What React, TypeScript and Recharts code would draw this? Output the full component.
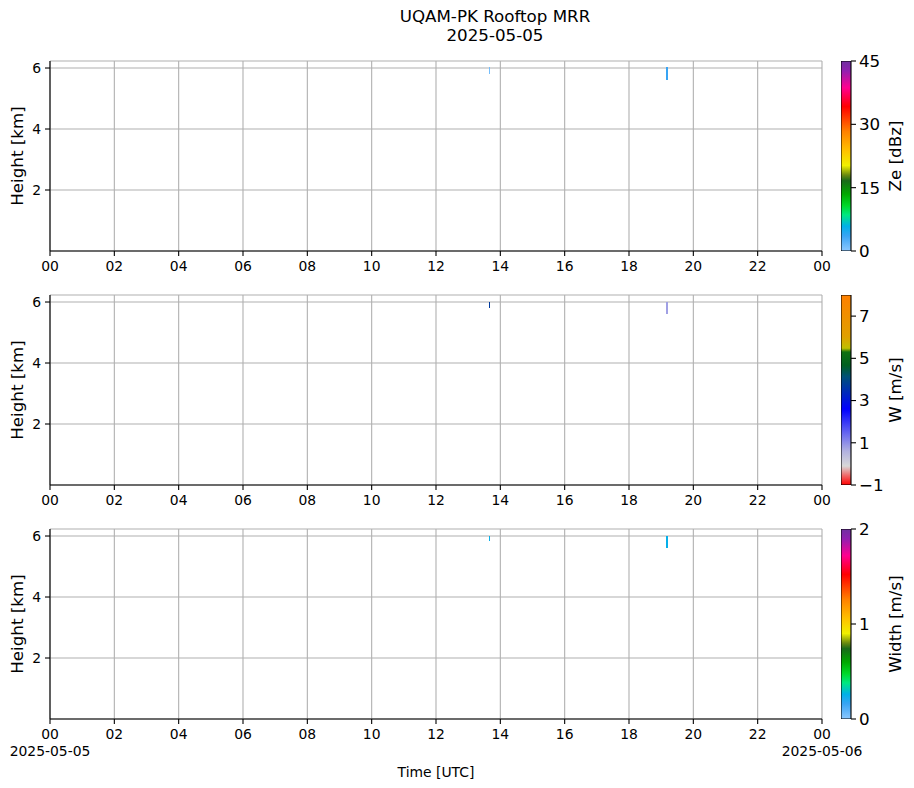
import React from "react";
import { ComposedChart, Bar, XAxis, YAxis, CartesianGrid, ReferenceArea } from "recharts";

// time axis (hours UTC)
const hourTicks = [0, 2, 4, 6, 8, 10, 12, 14, 16, 18, 20, 22, 24];
const hourLabels = ["00", "02", "04", "06", "08", "10", "12", "14", "16", "18", "20", "22", "00"];
const dateLabels = ["2025-05-05", "", "", "", "", "", "", "", "", "", "", "", "2025-05-06"];
const heightTicks = [2, 4, 6];

// the two echo columns seen in the day (start / end hour)
const gateStart = [13.648, 19.15];
const gateEnd = [13.679, 19.213];

// reflectivity
const zeBottom = [5.8, 5.6];
const zeTop = [6.03, 6.03];
const zeValues = [1.0, 3.6];
// doppler velocity
const wBottom = [5.8, 5.6];
const wTop = [6.0, 6.0];
const wValues = [3.7, 0.8];
// spectral width
const swBottom = [5.82, 5.6];
const swTop = [6.0, 6.0];
const swValues = [0.25, 0.25];

const zeTicks = [0, 15, 30, 45];
const wTicks = [-1, 1, 3, 5, 7];
const swTicks = [0, 1, 2];

// colormaps, position 0..1 from bottom of the colorbar
const rainbowMap: [number, string][] = [
  [0, "#8cc8ff"],
  [0.08, "#38a4f4"],
  [0.13, "#00b0e8"],
  [0.19, "#00e880"],
  [0.24, "#00d828"],
  [0.3, "#00a800"],
  [0.37, "#1a6a1a"],
  [0.4, "#6a8a10"],
  [0.45, "#f0f000"],
  [0.53, "#ffc000"],
  [0.63, "#ff8000"],
  [0.76, "#ff0000"],
  [0.86, "#ff0090"],
  [0.95, "#9020b0"],
  [1, "#7030a0"],
];
const velocityMap: [number, string][] = [
  [0, "#ff0000"],
  [0.05, "#f06868"],
  [0.1, "#d8d8d8"],
  [0.18, "#b0b0e0"],
  [0.27, "#6868f0"],
  [0.4, "#0000ff"],
  [0.5, "#0030b0"],
  [0.57, "#005078"],
  [0.63, "#006020"],
  [0.7, "#107010"],
  [0.72, "#c0c000"],
  [0.78, "#e0a000"],
  [1, "#ff8000"],
];

const FONT = "DejaVu Sans";
const PLOT_LEFT = 50;
const PLOT_RIGHT = 822;
const PLOT_H = 190;

function hexToRgb(h: string) {
  return [1, 3, 5].map((i) => parseInt(h.slice(i, i + 2), 16));
}

function colorAt(map: [number, string][], f: number) {
  const t = Math.max(0, Math.min(1, f));
  for (let i = 1; i < map.length; i++) {
    if (t <= map[i][0]) {
      const [p0, c0] = map[i - 1];
      const [p1, c1] = map[i];
      const k = (t - p0) / (p1 - p0 || 1);
      const a = hexToRgb(c0);
      const b = hexToRgb(c1);
      return `rgb(${a.map((v, j) => Math.round(v + (b[j] - v) * k)).join(",")})`;
    }
  }
  return map[map.length - 1][1];
}

// pixel-snapped cell so 1px-wide gates stay crisp
function GateCell(props: any) {
  const { x, y, width, height, fill } = props;
  const x0 = Math.round(x);
  const w = Math.max(1, Math.round(x + width) - x0);
  return (
    <rect
      x={x0}
      y={Math.round(y)}
      width={w}
      height={Math.round(height)}
      fill={fill}
      stroke="none"
      shapeRendering="crispEdges"
    />
  );
}

function DateTick(props: any) {
  const { x, y, index } = props;
  const date = dateLabels[index];
  return (
    <text x={x} y={y} textAnchor="middle" fill="#000" fontSize={13.9}>
      <tspan x={x} dy="0.71em">{hourLabels[index]}</tspan>
      {date ? (
        <tspan x={x} dy="1.2em">{date}</tspan>
      ) : null}
    </text>
  );
}

interface PanelProps {
  top: number;
  bottoms: number[];
  tops: number[];
  values: number[];
  min: number;
  max: number;
  map: [number, string][];
  last?: boolean;
}

function Panel({ top, bottoms, tops, values, min, max, map, last }: PanelProps) {
  const axisH = last ? 65 : 30;
  return (
    <div style={{ position: "absolute", left: 0, top: top - 10 }}>
      <ComposedChart
        width={914}
        height={10 + PLOT_H + axisH}
        margin={{ top: 10, right: 914 - PLOT_RIGHT, left: 0, bottom: 0 }}
      >
        <CartesianGrid stroke="#b0b0b0" strokeWidth={1.1} />
        <XAxis
          type="number"
          dataKey="x"
          domain={[0, 24]}
          ticks={hourTicks}
          interval={0}
          height={axisH}
          stroke="#000"
          strokeWidth={1.1}
          tickSize={5}
          tickMargin={5}
          tick={last ? <DateTick /> : { fill: "#000", fontSize: 13.9 }}
          tickFormatter={(v) => hourLabels[hourTicks.indexOf(v)]}
          allowDataOverflow
          label={
            last
              ? { value: "Time [UTC]", position: "insideBottom", offset: 7, fill: "#000", fontSize: 13.9 }
              : undefined
          }
        />
        <XAxis
          xAxisId="top"
          orientation="top"
          type="number"
          domain={[0, 24]}
          height={0}
          tick={false}
          tickLine={false}
          stroke="#000"
          strokeWidth={1.1}
        />
        <YAxis
          type="number"
          domain={[0, 6.23]}
          ticks={heightTicks}
          interval={0}
          width={PLOT_LEFT}
          stroke="#000"
          strokeWidth={1.1}
          tickSize={5}
          tickMargin={4}
          tick={{ fill: "#000", fontSize: 13.9 }}
          allowDataOverflow
          label={{
            value: "Height [km]",
            angle: -90,
            position: "insideLeft",
            offset: 17,
            fill: "#000",
            fontSize: 16.7,
            style: { textAnchor: "middle" },
          }}
        />
        <YAxis
          yAxisId="right"
          orientation="right"
          type="number"
          domain={[0, 6.23]}
          width={0}
          tick={false}
          tickLine={false}
          stroke="#000"
          strokeWidth={1.1}
        />
        {gateStart.map((t, i) => (
          <ReferenceArea
            key={i}
            x1={t}
            x2={gateEnd[i]}
            y1={bottoms[i]}
            y2={tops[i]}
            fill={colorAt(map, (values[i] - min) / (max - min))}
            fillOpacity={1}
            stroke="none"
            shape={<GateCell />}
          />
        ))}
      </ComposedChart>
    </div>
  );
}

interface ColorbarProps {
  id: string;
  top: number;
  min: number;
  max: number;
  ticks: number[];
  map: [number, string][];
  label: string;
}

function Colorbar({ id, top, min, max, ticks, map, label }: ColorbarProps) {
  const data = [{ name: id, span: [min, max] }];
  return (
    <div style={{ position: "absolute", left: 841, top: top - 10 }}>
      <ComposedChart
        width={73}
        height={PLOT_H + 20}
        data={data}
        barCategoryGap={0}
        margin={{ top: 10, right: 0, left: 0, bottom: 10 }}
      >
        <defs>
          <linearGradient id={id} x1="0" y1="1" x2="0" y2="0">
            {map.map(([p, c]) => (
              <stop key={p} offset={`${p * 100}%`} stopColor={c} />
            ))}
          </linearGradient>
        </defs>
        <XAxis type="category" dataKey="name" hide />
        <YAxis
          orientation="right"
          type="number"
          domain={[min, max]}
          ticks={ticks}
          interval={0}
          width={63}
          axisLine={false}
          tickSize={5}
          tickMargin={3}
          tickLine={{ stroke: "#000", strokeWidth: 1.1 }}
          tick={{ fill: "#000", fontSize: 16.7 }}
          tickFormatter={(v) => (v < 0 ? `\u2212${-v}` : `${v}`)}
          allowDataOverflow
          label={{
            value: label,
            angle: -90,
            position: "insideRight",
            offset: 19,
            fill: "#000",
            fontSize: 16.7,
            style: { textAnchor: "middle" },
          }}
        />
        <Bar
          dataKey="span"
          fill={`url(#${id})`}
          stroke="#000"
          strokeWidth={1.1}
          isAnimationActive={false}
        />
      </ComposedChart>
    </div>
  );
}

const titleLine: React.CSSProperties = {
  position: "absolute",
  left: 395,
  width: 200,
  textAlign: "center",
  fontSize: 16.7,
  lineHeight: "17px",
  height: 17,
  color: "#000",
  whiteSpace: "nowrap",
};

export default function App() {
  return (
    <div
      style={{
        position: "absolute",
        left: 0,
        top: 0,
        width: 914,
        height: 788,
        background: "#fff",
        fontFamily: FONT,
      }}
    >
      <div style={{ ...titleLine, top: 7.5 }}>UQAM-PK Rooftop MRR</div>
      <div style={{ ...titleLine, top: 26.5 }}>2025-05-05</div>
      <Panel top={61} bottoms={zeBottom} tops={zeTop} values={zeValues} min={0} max={45} map={rainbowMap} />
      <Panel top={295} bottoms={wBottom} tops={wTop} values={wValues} min={-1} max={8} map={velocityMap} />
      <Panel top={529} bottoms={swBottom} tops={swTop} values={swValues} min={0} max={2} map={rainbowMap} last />
      <Colorbar id="cbZe" top={61} min={0} max={45} ticks={zeTicks} map={rainbowMap} label="Ze [dBz]" />
      <Colorbar id="cbW" top={295} min={-1} max={8} ticks={wTicks} map={velocityMap} label="W [m/s]" />
      <Colorbar id="cbSw" top={529} min={0} max={2} ticks={swTicks} map={rainbowMap} label="Width [m/s]" />
    </div>
  );
}
